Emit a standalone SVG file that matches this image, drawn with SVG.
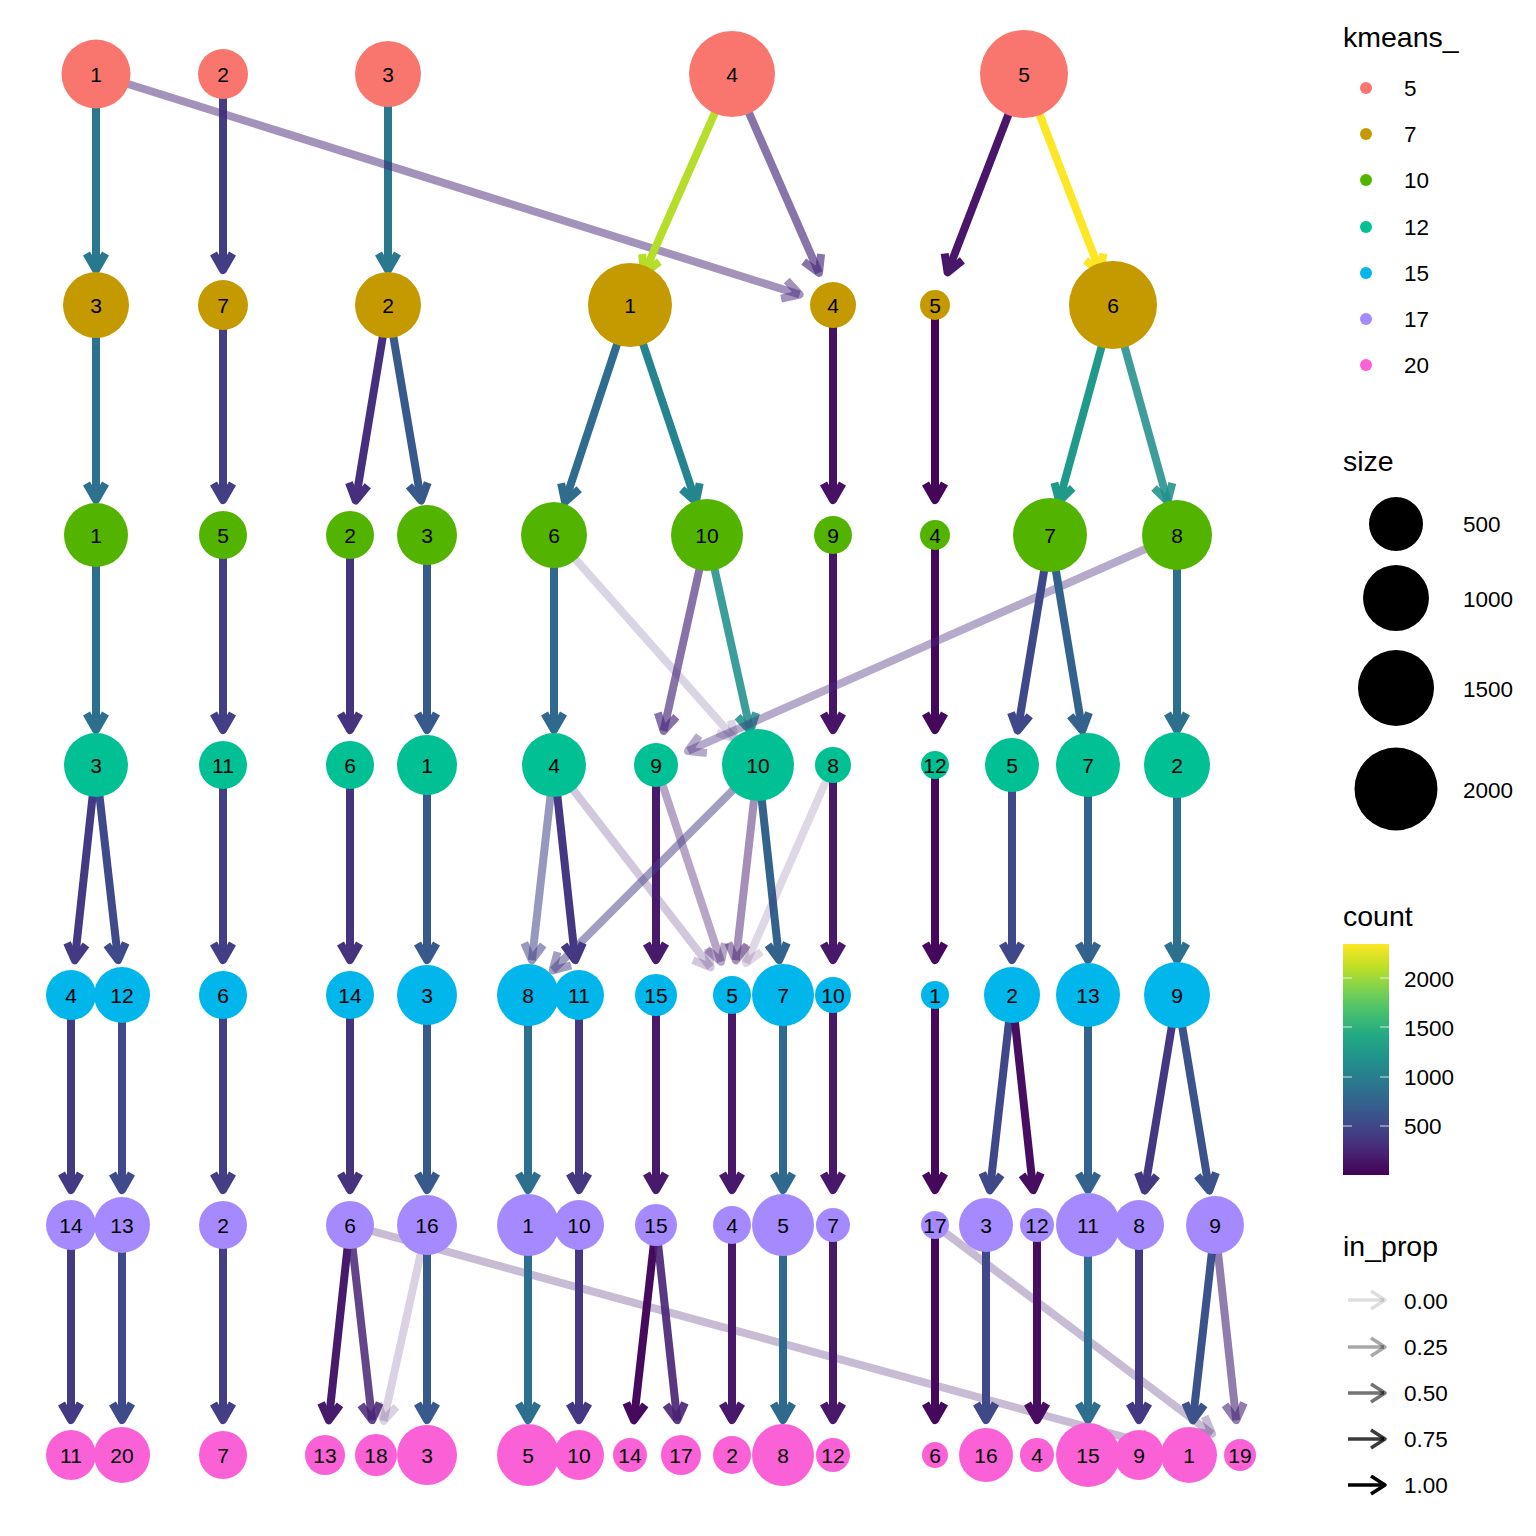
<svg xmlns="http://www.w3.org/2000/svg" width="1536" height="1536" viewBox="0 0 1536 1536">
<style>
.e path{fill:none;stroke-width:8;stroke-linejoin:round;stroke-linecap:butt}
.n text{font-family:"Liberation Sans",Arial,sans-serif;font-size:21px;text-anchor:middle;fill:#000}
.k5{fill:#F8766D}.k7{fill:#C49A00}.k10{fill:#53B400}.k12{fill:#00C094}.k15{fill:#00B6EB}.k17{fill:#A58AFF}.k20{fill:#FB61D7}
.lt{font-family:"Liberation Sans",Arial,sans-serif;font-size:28.5px;fill:#000}
.ll{font-family:"Liberation Sans",Arial,sans-serif;font-size:22.5px;fill:#000}
.la path{fill:none;stroke:#000;stroke-width:3.5;stroke-linejoin:round}
</style>
<defs>
<linearGradient id="vir" x1="0" y1="1" x2="0" y2="0">
<stop offset="0" stop-color="#440154"/><stop offset="0.1" stop-color="#482475"/><stop offset="0.2" stop-color="#414487"/><stop offset="0.3" stop-color="#355F8D"/><stop offset="0.4" stop-color="#2A788E"/><stop offset="0.5" stop-color="#21918C"/><stop offset="0.6" stop-color="#22A884"/><stop offset="0.7" stop-color="#44BF70"/><stop offset="0.8" stop-color="#7AD151"/><stop offset="0.9" stop-color="#BDDF26"/><stop offset="1" stop-color="#FDE725"/>
</linearGradient>
</defs>
<rect width="1536" height="1536" fill="#fff"/>
<g id="connectors" class="e">
<!-- row1 -> row2 -->
<g stroke="#2A788E"><path d="M96 74V270"/><path d="M86.5 253.5L96 270L105.5 253.5"/></g>
<g stroke="#433D84"><path d="M223 74V270"/><path d="M213.5 253.5L223 270L232.5 253.5"/></g>
<g stroke="#2A788E"><path d="M388 74V270"/><path d="M378.5 253.5L388 270L397.5 253.5"/></g>
<g stroke="#482878" stroke-opacity="0.5"><path d="M96 74L799.6 294.5"/><path d="M786.7 280.5L799.6 294.5L781.1 298.6"/></g>
<g stroke="#B5DE2B"><path d="M732 74L644.1 273"/><path d="M659.4 261.8L644.1 273L642.1 254.1"/></g>
<g stroke="#472A7A" stroke-opacity="0.65"><path d="M732 74L819 272.9"/><path d="M821.1 254L819 272.9L803.7 261.6"/></g>
<g stroke="#481769"><path d="M1024 74L947.6 272.3"/><path d="M962.4 260.4L947.6 272.3L944.7 253.5"/></g>
<g stroke="#FDE725"><path d="M1024 74L1100.4 272.3"/><path d="M1103.4 253.5L1100.4 272.3L1085.6 260.4"/></g>
<!-- row2 -> row3 -->
<g stroke="#2D718E"><path d="M96 305V500"/><path d="M86.5 483.5L96 500L105.5 483.5"/></g>
<g stroke="#433E85"><path d="M223 305V500"/><path d="M213.5 483.5L223 500L232.5 483.5"/></g>
<g stroke="#46307E"><path d="M388 305L355.7 500.5"/><path d="M367.8 485.8L355.7 500.5L349 482.7"/></g>
<g stroke="#38598C"><path d="M388 305L421.1 500.5"/><path d="M427.7 482.7L421.1 500.5L409 485.9"/></g>
<g stroke="#2F6C8E"><path d="M630 305L565 501.8"/><path d="M579.2 489.2L565 501.8L561.1 483.2"/></g>
<g stroke="#25858E"><path d="M630 305L695.9 501.8"/><path d="M699.7 483.2L695.9 501.8L681.7 489.2"/></g>
<g stroke="#471164"><path d="M833 305V500"/><path d="M823.5 483.5L833 500L842.5 483.5"/></g>
<g stroke="#450559"><path d="M935 305V500"/><path d="M925.5 483.5L935 500L944.5 483.5"/></g>
<g stroke="#1F9A8A"><path d="M1113 305L1059.2 501.2"/><path d="M1072.7 487.8L1059.2 501.2L1054.4 482.8"/></g>
<g stroke="#21908C" stroke-opacity="0.88"><path d="M1113 305L1167.6 501.3"/><path d="M1172.3 482.9L1167.6 501.3L1154 488"/></g>
<!-- row3 -> row4 -->
<g stroke="#2D708E"><path d="M96 535V730"/><path d="M86.5 713.5L96 730L105.5 713.5"/></g>
<g stroke="#433E85"><path d="M223 535V730"/><path d="M213.5 713.5L223 730L232.5 713.5"/></g>
<g stroke="#46337E"><path d="M350 535V730"/><path d="M340.5 713.5L350 730L359.5 713.5"/></g>
<g stroke="#38598C"><path d="M427 535V730"/><path d="M417.5 713.5L427 730L436.5 713.5"/></g>
<g stroke="#31688E"><path d="M554 535V730"/><path d="M544.5 713.5L554 730L563.5 713.5"/></g>
<g stroke="#472D7B" stroke-opacity="0.2"><path d="M554 535L734.8 738.8"/><path d="M731 720.2L734.8 738.8L716.8 732.8"/></g>
<g stroke="#48287A" stroke-opacity="0.65"><path d="M707 535L663.6 730.8"/><path d="M676.4 716.8L663.6 730.8L657.9 712.7"/></g>
<g stroke="#21918C" stroke-opacity="0.88"><path d="M707 535L750.4 730.8"/><path d="M756.1 712.7L750.4 730.8L737.6 716.8"/></g>
<g stroke="#481467"><path d="M833 535V730"/><path d="M823.5 713.5L833 730L842.5 713.5"/></g>
<g stroke="#46085C"><path d="M935 535V730"/><path d="M925.5 713.5L935 730L944.5 713.5"/></g>
<g stroke="#472A7A" stroke-opacity="0.4"><path d="M1177 535L688 750.9"/><path d="M706.9 753L688 750.9L699.2 735.6"/></g>
<g stroke="#3F4889"><path d="M1050 535L1017.7 730.5"/><path d="M1029.8 715.8L1017.7 730.5L1011 712.7"/></g>
<g stroke="#33638D"><path d="M1050 535L1082.3 730.5"/><path d="M1089 712.7L1082.3 730.5L1070.2 715.8"/></g>
<g stroke="#2D708E"><path d="M1177 535V730"/><path d="M1167.5 713.5L1177 730L1186.5 713.5"/></g>
<!-- row4 -> row5 -->
<g stroke="#443A83"><path d="M96 765L74.8 960.2"/><path d="M86 944.9L74.8 960.2L67.1 942.8"/></g>
<g stroke="#3E4A89"><path d="M96 765L118.1 960.2"/><path d="M125.7 942.8L118.1 960.2L106.8 944.9"/></g>
<g stroke="#433E85"><path d="M223 765V960"/><path d="M213.5 943.5L223 960L232.5 943.5"/></g>
<g stroke="#46337E"><path d="M350 765V960"/><path d="M340.5 943.5L350 960L359.5 943.5"/></g>
<g stroke="#38598C"><path d="M427 765V960"/><path d="M417.5 943.5L427 960L436.5 943.5"/></g>
<g stroke="#414487" stroke-opacity="0.55"><path d="M554 765L531.9 960.2"/><path d="M543.2 944.9L531.9 960.2L524.3 942.8"/></g>
<g stroke="#453781"><path d="M554 765L575.2 960.2"/><path d="M582.9 942.8L575.2 960.2L564 944.9"/></g>
<g stroke="#482576" stroke-opacity="0.25"><path d="M554 765L710.6 967.3"/><path d="M708 948.5L710.6 967.3L693 960.1"/></g>
<g stroke="#481A6C"><path d="M656 765V960"/><path d="M646.5 943.5L656 960L665.5 943.5"/></g>
<g stroke="#481F70" stroke-opacity="0.4"><path d="M656 765L721 961.8"/><path d="M724.9 943.2L721 961.8L706.8 949.2"/></g>
<g stroke="#433E85" stroke-opacity="0.5"><path d="M758 765L552.7 970.3"/><path d="M571.1 965.4L552.7 970.3L557.6 952"/></g>
<g stroke="#481F70" stroke-opacity="0.5"><path d="M758 765L735.9 960.2"/><path d="M747.2 944.9L735.9 960.2L728.3 942.8"/></g>
<g stroke="#33638D"><path d="M758 765L779.2 960.2"/><path d="M786.9 942.8L779.2 960.2L768 944.9"/></g>
<g stroke="#48186A"><path d="M833 765V960"/><path d="M823.5 943.5L833 960L842.5 943.5"/></g>
<g stroke="#481F70" stroke-opacity="0.18"><path d="M833 765L746.1 963"/><path d="M761.4 951.8L746.1 963L744 944.1"/></g>
<g stroke="#46085C"><path d="M935 765V960"/><path d="M925.5 943.5L935 960L944.5 943.5"/></g>
<g stroke="#3F4889"><path d="M1012 765V960"/><path d="M1002.5 943.5L1012 960L1021.5 943.5"/></g>
<g stroke="#33638D"><path d="M1088 765V960"/><path d="M1078.5 943.5L1088 960L1097.5 943.5"/></g>
<g stroke="#2D708E"><path d="M1177 765V960"/><path d="M1167.5 943.5L1177 960L1186.5 943.5"/></g>
<!-- row5 -> row6 -->
<g stroke="#443A83"><path d="M71 995V1190"/><path d="M61.5 1173.5L71 1190L80.5 1173.5"/></g>
<g stroke="#3E4A89"><path d="M122 995V1190"/><path d="M112.5 1173.5L122 1190L131.5 1173.5"/></g>
<g stroke="#433E85"><path d="M223 995V1190"/><path d="M213.5 1173.5L223 1190L232.5 1173.5"/></g>
<g stroke="#46337E"><path d="M350 995V1190"/><path d="M340.5 1173.5L350 1190L359.5 1173.5"/></g>
<g stroke="#38598C"><path d="M427 995V1190"/><path d="M417.5 1173.5L427 1190L436.5 1173.5"/></g>
<g stroke="#2E6E8E"><path d="M528 995V1190"/><path d="M518.5 1173.5L528 1190L537.5 1173.5"/></g>
<g stroke="#453781"><path d="M579 995V1190"/><path d="M569.5 1173.5L579 1190L588.5 1173.5"/></g>
<g stroke="#481A6C"><path d="M656 995V1190"/><path d="M646.5 1173.5L656 1190L665.5 1173.5"/></g>
<g stroke="#48186A"><path d="M732 995V1190"/><path d="M722.5 1173.5L732 1190L741.5 1173.5"/></g>
<g stroke="#30698E"><path d="M783 995V1190"/><path d="M773.5 1173.5L783 1190L792.5 1173.5"/></g>
<g stroke="#48186A"><path d="M833 995V1190"/><path d="M823.5 1173.5L833 1190L842.5 1173.5"/></g>
<g stroke="#46085C"><path d="M935 995V1190"/><path d="M925.5 1173.5L935 1190L944.5 1173.5"/></g>
<g stroke="#3F4889"><path d="M1012 995L989.9 1190.2"/><path d="M1001.2 1174.9L989.9 1190.2L982.3 1172.8"/></g>
<g stroke="#470D60"><path d="M1012 995L1033.2 1190.2"/><path d="M1040.9 1172.8L1033.2 1190.2L1022 1174.9"/></g>
<g stroke="#33638D"><path d="M1088 995V1190"/><path d="M1078.5 1173.5L1088 1190L1097.5 1173.5"/></g>
<g stroke="#453882"><path d="M1177 995L1144.7 1190.5"/><path d="M1156.8 1175.8L1144.7 1190.5L1138 1172.7"/></g>
<g stroke="#3B528B"><path d="M1177 995L1209.3 1190.5"/><path d="M1216 1172.7L1209.3 1190.5L1197.2 1175.8"/></g>
<!-- row6 -> row7 -->
<g stroke="#443A83"><path d="M71 1225V1420"/><path d="M61.5 1403.5L71 1420L80.5 1403.5"/></g>
<g stroke="#3E4A89"><path d="M122 1225V1420"/><path d="M112.5 1403.5L122 1420L131.5 1403.5"/></g>
<g stroke="#433E85"><path d="M223 1225V1420"/><path d="M213.5 1403.5L223 1420L232.5 1403.5"/></g>
<g stroke="#481A6C"><path d="M350 1225L328.8 1420.2"/><path d="M340 1404.9L328.8 1420.2L321.1 1402.8"/></g>
<g stroke="#482475" stroke-opacity="0.85"><path d="M350 1225L372.1 1420.2"/><path d="M379.7 1402.8L372.1 1420.2L360.8 1404.9"/></g>
<g stroke="#481F70" stroke-opacity="0.3"><path d="M350 1225L1155.2 1445.7"/><path d="M1141.9 1432.2L1155.2 1445.7L1136.8 1450.5"/></g>
<g stroke="#481F70" stroke-opacity="0.2"><path d="M427 1225L383.6 1420.8"/><path d="M396.4 1406.8L383.6 1420.8L377.9 1402.7"/></g>
<g stroke="#38598C"><path d="M427 1225V1420"/><path d="M417.5 1403.5L427 1420L436.5 1403.5"/></g>
<g stroke="#2E6E8E"><path d="M528 1225V1420"/><path d="M518.5 1403.5L528 1420L537.5 1403.5"/></g>
<g stroke="#453781"><path d="M579 1225V1420"/><path d="M569.5 1403.5L579 1420L588.5 1403.5"/></g>
<g stroke="#450A5C"><path d="M656 1225L633.9 1420.2"/><path d="M645.2 1404.9L633.9 1420.2L626.3 1402.8"/></g>
<g stroke="#482173" stroke-opacity="0.9"><path d="M656 1225L677.2 1420.2"/><path d="M684.9 1402.8L677.2 1420.2L666 1404.9"/></g>
<g stroke="#48186A"><path d="M732 1225V1420"/><path d="M722.5 1403.5L732 1420L741.5 1403.5"/></g>
<g stroke="#30698E"><path d="M783 1225V1420"/><path d="M773.5 1403.5L783 1420L792.5 1403.5"/></g>
<g stroke="#48186A"><path d="M833 1225V1420"/><path d="M823.5 1403.5L833 1420L842.5 1403.5"/></g>
<g stroke="#46085C"><path d="M935 1225V1420"/><path d="M925.5 1403.5L935 1420L944.5 1403.5"/></g>
<g stroke="#481F70" stroke-opacity="0.3"><path d="M935 1225L1212.1 1433.9"/><path d="M1204.7 1416.4L1212.1 1433.9L1193.2 1431.6"/></g>
<g stroke="#3F4889"><path d="M986 1225V1420"/><path d="M976.5 1403.5L986 1420L995.5 1403.5"/></g>
<g stroke="#470D60"><path d="M1037 1225V1420"/><path d="M1027.5 1403.5L1037 1420L1046.5 1403.5"/></g>
<g stroke="#2E6E8E"><path d="M1088 1225V1420"/><path d="M1078.5 1403.5L1088 1420L1097.5 1403.5"/></g>
<g stroke="#453882"><path d="M1139 1225V1420"/><path d="M1129.5 1403.5L1139 1420L1148.5 1403.5"/></g>
<g stroke="#3B528B"><path d="M1215 1225L1192.9 1420.2"/><path d="M1204.2 1404.9L1192.9 1420.2L1185.3 1402.8"/></g>
<g stroke="#482677" stroke-opacity="0.6"><path d="M1215 1225L1236.2 1420.2"/><path d="M1243.9 1402.8L1236.2 1420.2L1225 1404.9"/></g>
</g>
<g id="nodes" class="n">
<g id="k5_1"><circle class="k5" cx="96" cy="74" r="34.5"/><text x="96" y="81.5">1</text></g>
<g id="k5_2"><circle class="k5" cx="223" cy="74" r="25"/><text x="223" y="81.5">2</text></g>
<g id="k5_3"><circle class="k5" cx="388" cy="74" r="33"/><text x="388" y="81.5">3</text></g>
<g id="k5_4"><circle class="k5" cx="732" cy="74" r="43"/><text x="732" y="81.5">4</text></g>
<g id="k5_5"><circle class="k5" cx="1024" cy="74" r="44"/><text x="1024" y="81.5">5</text></g>

<g id="k7_3"><circle class="k7" cx="96" cy="305" r="33"/><text x="96" y="312.5">3</text></g>
<g id="k7_7"><circle class="k7" cx="223" cy="305" r="25"/><text x="223" y="312.5">7</text></g>
<g id="k7_2"><circle class="k7" cx="388" cy="305" r="33"/><text x="388" y="312.5">2</text></g>
<g id="k7_1"><circle class="k7" cx="630" cy="305" r="42"/><text x="630" y="312.5">1</text></g>
<g id="k7_4"><circle class="k7" cx="833" cy="305" r="23"/><text x="833" y="312.5">4</text></g>
<g id="k7_5"><circle class="k7" cx="935" cy="305" r="15"/><text x="935" y="312.5">5</text></g>
<g id="k7_6"><circle class="k7" cx="1113" cy="305" r="44"/><text x="1113" y="312.5">6</text></g>

<g id="k10_1"><circle class="k10" cx="96" cy="535" r="32"/><text x="96" y="542.5">1</text></g>
<g id="k10_5"><circle class="k10" cx="223" cy="535" r="24"/><text x="223" y="542.5">5</text></g>
<g id="k10_2"><circle class="k10" cx="350" cy="535" r="24"/><text x="350" y="542.5">2</text></g>
<g id="k10_3"><circle class="k10" cx="427" cy="535" r="30"/><text x="427" y="542.5">3</text></g>
<g id="k10_6"><circle class="k10" cx="554" cy="535" r="33"/><text x="554" y="542.5">6</text></g>
<g id="k10_10"><circle class="k10" cx="707" cy="535" r="36"/><text x="707" y="542.5">10</text></g>
<g id="k10_9"><circle class="k10" cx="833" cy="535" r="19"/><text x="833" y="542.5">9</text></g>
<g id="k10_4"><circle class="k10" cx="935" cy="535" r="15"/><text x="935" y="542.5">4</text></g>
<g id="k10_7"><circle class="k10" cx="1050" cy="535" r="37"/><text x="1050" y="542.5">7</text></g>
<g id="k10_8"><circle class="k10" cx="1177" cy="535" r="35"/><text x="1177" y="542.5">8</text></g>

<g id="k12_3"><circle class="k12" cx="96" cy="765" r="32"/><text x="96" y="772.5">3</text></g>
<g id="k12_11"><circle class="k12" cx="223" cy="765" r="24"/><text x="223" y="772.5">11</text></g>
<g id="k12_6"><circle class="k12" cx="350" cy="765" r="24"/><text x="350" y="772.5">6</text></g>
<g id="k12_1"><circle class="k12" cx="427" cy="765" r="30"/><text x="427" y="772.5">1</text></g>
<g id="k12_4"><circle class="k12" cx="554" cy="765" r="32"/><text x="554" y="772.5">4</text></g>
<g id="k12_9"><circle class="k12" cx="656" cy="765" r="22"/><text x="656" y="772.5">9</text></g>
<g id="k12_10"><circle class="k12" cx="758" cy="765" r="36"/><text x="758" y="772.5">10</text></g>
<g id="k12_8"><circle class="k12" cx="833" cy="765" r="18"/><text x="833" y="772.5">8</text></g>
<g id="k12_12"><circle class="k12" cx="935" cy="765" r="14"/><text x="935" y="772.5">12</text></g>
<g id="k12_5"><circle class="k12" cx="1012" cy="765" r="27"/><text x="1012" y="772.5">5</text></g>
<g id="k12_7"><circle class="k12" cx="1088" cy="765" r="32"/><text x="1088" y="772.5">7</text></g>
<g id="k12_2"><circle class="k12" cx="1177" cy="765" r="33"/><text x="1177" y="772.5">2</text></g>

<g id="k15_4"><circle class="k15" cx="71" cy="995" r="25"/><text x="71" y="1002.5">4</text></g>
<g id="k15_12"><circle class="k15" cx="122" cy="995" r="28"/><text x="122" y="1002.5">12</text></g>
<g id="k15_6"><circle class="k15" cx="223" cy="995" r="24"/><text x="223" y="1002.5">6</text></g>
<g id="k15_14"><circle class="k15" cx="350" cy="995" r="24"/><text x="350" y="1002.5">14</text></g>
<g id="k15_3"><circle class="k15" cx="427" cy="995" r="30"/><text x="427" y="1002.5">3</text></g>
<g id="k15_8"><circle class="k15" cx="528" cy="995" r="31"/><text x="528" y="1002.5">8</text></g>
<g id="k15_11"><circle class="k15" cx="579" cy="995" r="25"/><text x="579" y="1002.5">11</text></g>
<g id="k15_15"><circle class="k15" cx="656" cy="995" r="21"/><text x="656" y="1002.5">15</text></g>
<g id="k15_5"><circle class="k15" cx="732" cy="995" r="19"/><text x="732" y="1002.5">5</text></g>
<g id="k15_7"><circle class="k15" cx="783" cy="995" r="31"/><text x="783" y="1002.5">7</text></g>
<g id="k15_10"><circle class="k15" cx="833" cy="995" r="18"/><text x="833" y="1002.5">10</text></g>
<g id="k15_1"><circle class="k15" cx="935" cy="995" r="14"/><text x="935" y="1002.5">1</text></g>
<g id="k15_2"><circle class="k15" cx="1012" cy="995" r="28"/><text x="1012" y="1002.5">2</text></g>
<g id="k15_13"><circle class="k15" cx="1088" cy="995" r="32"/><text x="1088" y="1002.5">13</text></g>
<g id="k15_9"><circle class="k15" cx="1177" cy="995" r="33"/><text x="1177" y="1002.5">9</text></g>

<g id="k17_14"><circle class="k17" cx="71" cy="1225" r="25"/><text x="71" y="1232.5">14</text></g>
<g id="k17_13"><circle class="k17" cx="122" cy="1225" r="28"/><text x="122" y="1232.5">13</text></g>
<g id="k17_2"><circle class="k17" cx="223" cy="1225" r="24"/><text x="223" y="1232.5">2</text></g>
<g id="k17_6"><circle class="k17" cx="350" cy="1225" r="24"/><text x="350" y="1232.5">6</text></g>
<g id="k17_16"><circle class="k17" cx="427" cy="1225" r="30"/><text x="427" y="1232.5">16</text></g>
<g id="k17_1"><circle class="k17" cx="528" cy="1225" r="31"/><text x="528" y="1232.5">1</text></g>
<g id="k17_10"><circle class="k17" cx="579" cy="1225" r="25"/><text x="579" y="1232.5">10</text></g>
<g id="k17_15"><circle class="k17" cx="656" cy="1225" r="21"/><text x="656" y="1232.5">15</text></g>
<g id="k17_4"><circle class="k17" cx="732" cy="1225" r="19"/><text x="732" y="1232.5">4</text></g>
<g id="k17_5"><circle class="k17" cx="783" cy="1225" r="31"/><text x="783" y="1232.5">5</text></g>
<g id="k17_7"><circle class="k17" cx="833" cy="1225" r="17"/><text x="833" y="1232.5">7</text></g>
<g id="k17_17"><circle class="k17" cx="935" cy="1225" r="14"/><text x="935" y="1232.5">17</text></g>
<g id="k17_3"><circle class="k17" cx="986" cy="1225" r="27"/><text x="986" y="1232.5">3</text></g>
<g id="k17_12"><circle class="k17" cx="1037" cy="1225" r="17"/><text x="1037" y="1232.5">12</text></g>
<g id="k17_11"><circle class="k17" cx="1088" cy="1225" r="32"/><text x="1088" y="1232.5">11</text></g>
<g id="k17_8"><circle class="k17" cx="1139" cy="1225" r="25"/><text x="1139" y="1232.5">8</text></g>
<g id="k17_9"><circle class="k17" cx="1215" cy="1225" r="29"/><text x="1215" y="1232.5">9</text></g>

<g id="k20_11"><circle class="k20" cx="71" cy="1455" r="25"/><text x="71" y="1462.5">11</text></g>
<g id="k20_20"><circle class="k20" cx="122" cy="1455" r="28"/><text x="122" y="1462.5">20</text></g>
<g id="k20_7"><circle class="k20" cx="223" cy="1455" r="24"/><text x="223" y="1462.5">7</text></g>
<g id="k20_13"><circle class="k20" cx="325" cy="1455" r="20"/><text x="325" y="1462.5">13</text></g>
<g id="k20_18"><circle class="k20" cx="376" cy="1455" r="21"/><text x="376" y="1462.5">18</text></g>
<g id="k20_3"><circle class="k20" cx="427" cy="1455" r="30"/><text x="427" y="1462.5">3</text></g>
<g id="k20_5"><circle class="k20" cx="528" cy="1455" r="31"/><text x="528" y="1462.5">5</text></g>
<g id="k20_10"><circle class="k20" cx="579" cy="1455" r="25"/><text x="579" y="1462.5">10</text></g>
<g id="k20_14"><circle class="k20" cx="630" cy="1455" r="17"/><text x="630" y="1462.5">14</text></g>
<g id="k20_17"><circle class="k20" cx="681" cy="1455" r="20"/><text x="681" y="1462.5">17</text></g>
<g id="k20_2"><circle class="k20" cx="732" cy="1455" r="19"/><text x="732" y="1462.5">2</text></g>
<g id="k20_8"><circle class="k20" cx="783" cy="1455" r="31"/><text x="783" y="1462.5">8</text></g>
<g id="k20_12"><circle class="k20" cx="833" cy="1455" r="17"/><text x="833" y="1462.5">12</text></g>
<g id="k20_6"><circle class="k20" cx="935" cy="1455" r="13"/><text x="935" y="1462.5">6</text></g>
<g id="k20_16"><circle class="k20" cx="986" cy="1455" r="27"/><text x="986" y="1462.5">16</text></g>
<g id="k20_4"><circle class="k20" cx="1037" cy="1455" r="17"/><text x="1037" y="1462.5">4</text></g>
<g id="k20_15"><circle class="k20" cx="1088" cy="1455" r="32"/><text x="1088" y="1462.5">15</text></g>
<g id="k20_9"><circle class="k20" cx="1139" cy="1455" r="25"/><text x="1139" y="1462.5">9</text></g>
<g id="k20_1"><circle class="k20" cx="1189" cy="1455" r="28"/><text x="1189" y="1462.5">1</text></g>
<g id="k20_19"><circle class="k20" cx="1240" cy="1455" r="16"/><text x="1240" y="1462.5">19</text></g>
</g>
<g id="legend">
<text class="lt" x="1343" y="47">kmeans_</text>
<circle class="k5" cx="1366" cy="88" r="6"/><text class="ll" x="1404" y="96">5</text>
<circle class="k7" cx="1366" cy="134" r="6"/><text class="ll" x="1404" y="142">7</text>
<circle class="k10" cx="1366" cy="180" r="6"/><text class="ll" x="1404" y="188">10</text>
<circle class="k12" cx="1366" cy="227" r="6"/><text class="ll" x="1404" y="235">12</text>
<circle class="k15" cx="1366" cy="273" r="6"/><text class="ll" x="1404" y="281">15</text>
<circle class="k17" cx="1366" cy="319" r="6"/><text class="ll" x="1404" y="327">17</text>
<circle class="k20" cx="1366" cy="365" r="6"/><text class="ll" x="1404" y="373">20</text>

<text class="lt" x="1343" y="471">size</text>
<circle cx="1396" cy="524" r="27" fill="#000"/><text class="ll" x="1463" y="532">500</text>
<circle cx="1396" cy="598" r="33" fill="#000"/><text class="ll" x="1463" y="607">1000</text>
<circle cx="1396" cy="688" r="38" fill="#000"/><text class="ll" x="1463" y="697">1500</text>
<circle cx="1396" cy="789" r="41.5" fill="#000"/><text class="ll" x="1463" y="798">2000</text>

<text class="lt" x="1343" y="926">count</text>
<rect x="1343" y="944" width="46" height="231" fill="url(#vir)"/>
<g stroke="#fff" stroke-width="1.2" stroke-opacity="0.8">
<path d="M1343 978h9M1380 978h9M1343 1027h9M1380 1027h9M1343 1077h9M1380 1077h9M1343 1126h9M1380 1126h9"/>
</g>
<text class="ll" x="1404" y="987">2000</text>
<text class="ll" x="1404" y="1036">1500</text>
<text class="ll" x="1404" y="1085">1000</text>
<text class="ll" x="1404" y="1134">500</text>

<text class="lt" x="1343" y="1256">in_prop</text>
<g class="la">
<g stroke-opacity="0.13"><path d="M1348 1300H1384"/><path d="M1371 1291L1385 1300L1371 1309"/></g>
<g stroke-opacity="0.34"><path d="M1348 1347H1384"/><path d="M1371 1338L1385 1347L1371 1356"/></g>
<g stroke-opacity="0.55"><path d="M1348 1393H1384"/><path d="M1371 1384L1385 1393L1371 1402"/></g>
<g stroke-opacity="0.77"><path d="M1348 1439H1384"/><path d="M1371 1430L1385 1439L1371 1448"/></g>
<g stroke-opacity="1"><path d="M1348 1485H1384"/><path d="M1371 1476L1385 1485L1371 1494"/></g>
</g>
<text class="ll" x="1404" y="1309">0.00</text>
<text class="ll" x="1404" y="1355">0.25</text>
<text class="ll" x="1404" y="1401">0.50</text>
<text class="ll" x="1404" y="1447">0.75</text>
<text class="ll" x="1404" y="1493">1.00</text>
</g>
</svg>
